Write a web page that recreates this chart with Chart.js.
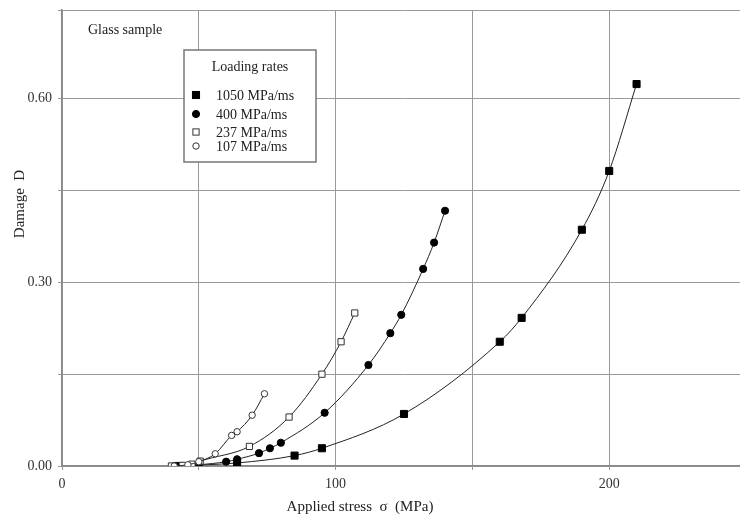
<!DOCTYPE html>
<html><head><meta charset="utf-8">
<script src="https://cdn.jsdelivr.net/npm/chart.js@4.4.1/dist/chart.umd.min.js"></script>
<style>html,body{margin:0;padding:0;background:#fff;overflow:hidden}#wrap{width:740px;height:520px;overflow:hidden}canvas{display:block}</style>
</head><body><div id="wrap"><canvas id="c" width="752" height="520"></canvas></div>
<script>
const seriesLabels = ['1050 MPa/ms', '400 MPa/ms', '237 MPa/ms', '107 MPa/ms'];
const stress1050 = [42, 64, 85, 95, 125, 160, 168, 190, 200, 210];
const damage1050 = [0, 0.005, 0.017, 0.029, 0.085, 0.203, 0.242, 0.386, 0.482, 0.624];
const stress400 = [44, 50, 60, 64, 72, 76, 80, 96, 112, 120, 124, 132, 136, 140];
const damage400 = [0, 0.002, 0.007, 0.011, 0.021, 0.029, 0.038, 0.087, 0.165, 0.217, 0.247, 0.322, 0.365, 0.417];
const stress237 = [40, 44, 47.5, 50.5, 68.5, 83, 95, 102, 107];
const damage237 = [0, 0.001, 0.003, 0.008, 0.032, 0.080, 0.150, 0.203, 0.250];
const stress107 = [41, 46, 50, 56, 62, 64, 69.5, 74];
const damage107 = [0, 0.002, 0.007, 0.020, 0.050, 0.056, 0.083, 0.118];
const xTickLabels = ['0', '100', '200'];
const yTickLabels = ['0.00', '0.30', '0.60'];
const xGridValues = [0, 50, 100, 150, 200, 250];
const yGridValues = [0, 0.15, 0.30, 0.45, 0.60];

const SERIF = '"Liberation Serif", "DejaVu Serif", serif';
function pts(xs, ys) { return xs.map((x, i) => ({x: x, y: ys[i]})); }

const styles = [
  {pointStyle: 'rect', radius: 5, bg: '#000', border: '#000'},
  {pointStyle: 'circle', radius: 3.6, bg: '#000', border: '#000'},
  {pointStyle: 'rect', radius: 4.4, bg: '#fff', border: '#333'},
  {pointStyle: 'circle', radius: 3.2, bg: '#fff', border: '#333'}
];
const allData = [pts(stress1050, damage1050), pts(stress400, damage400), pts(stress237, damage237), pts(stress107, damage107)];

const datasets = allData.map((d, i) => ({
  label: seriesLabels[i],
  data: d,
  showLine: true,
  borderColor: '#222',
  borderWidth: 1,
  cubicInterpolationMode: 'monotone',
  pointStyle: styles[i].pointStyle,
  pointRadius: styles[i].radius,
  pointBackgroundColor: styles[i].bg,
  pointBorderColor: styles[i].border,
  pointBorderWidth: 1,
  order: 4 - i
}));

const annot = {
  id: 'annot',
  afterDraw(chart) {
    const ctx = chart.ctx;
    ctx.save();
    ctx.fillStyle = '#222';
    ctx.textBaseline = 'middle';
    ctx.font = '14px ' + SERIF;
    ctx.textAlign = 'left';
    ctx.fillText('Glass sample', 88, 30);
    ctx.font = '15px ' + SERIF;
    ctx.textAlign = 'center';
    ctx.fillText('Applied stress  \u03C3  (MPa)', 360, 507);
    ctx.save();
    ctx.translate(20, 204);
    ctx.rotate(-Math.PI / 2);
    ctx.fillText('Damage  D', 0, 0);
    ctx.restore();
    ctx.fillStyle = '#fff';
    ctx.fillRect(184, 50, 132, 112);
    ctx.strokeStyle = '#777';
    ctx.lineWidth = 1.5;
    ctx.strokeRect(184, 50, 132, 112);
    ctx.fillStyle = '#222';
    ctx.font = '14px ' + SERIF;
    ctx.textAlign = 'center';
    ctx.fillText('Loading rates', 250, 67);
    const ys = [95, 114, 132, 146];
    ctx.textAlign = 'left';
    seriesLabels.forEach((lab, i) => {
      const st = styles[i];
      const y = ys[i], x = 196;
      ctx.lineWidth = 1;
      ctx.fillStyle = st.bg;
      ctx.strokeStyle = st.border;
      if (st.pointStyle === 'rect') {
        const s = st.radius * Math.SQRT1_2;
        ctx.fillRect(x - s, y - s, 2 * s, 2 * s);
        ctx.strokeRect(x - s, y - s, 2 * s, 2 * s);
      } else {
        ctx.beginPath();
        ctx.arc(x, y, st.radius, 0, Math.PI * 2);
        ctx.fill();
        ctx.stroke();
      }
      ctx.fillStyle = '#222';
      ctx.fillText(lab, 216, y + 1);
    });
    ctx.restore();
  }
};

new Chart(document.getElementById('c'), {
  type: 'scatter',
  data: {datasets: datasets},
  options: {
    responsive: false,
    animation: false,
    devicePixelRatio: 1,
    layout: {padding: {top: 10, right: 0, left: 0, bottom: 0}},
    plugins: {legend: {display: false}, tooltip: {enabled: false}},
    scales: {
      x: {
        type: 'linear', min: 0, max: 250,
        afterBuildTicks: (s) => { s.ticks = xGridValues.map(v => ({value: v})); },
        afterFit: (s) => { s.height = 54; s.paddingLeft = 0; s.paddingRight = 0; },
        grid: {color: '#999', lineWidth: 1, tickLength: 4},
        border: {color: '#888', width: 1.5},
        ticks: {
          font: {family: SERIF, size: 14}, color: '#333', padding: 6, maxRotation: 0,
          callback: (v) => xTickLabels.includes(String(v)) ? String(v) : ''
        }
      },
      y: {
        type: 'linear', min: 0, max: 0.745,
        afterBuildTicks: (s) => { s.ticks = yGridValues.concat([0.745]).map(v => ({value: v})); },
        afterFit: (s) => { s.width = 62; s.paddingTop = 0; s.paddingBottom = 0; },
        grid: {color: '#999', lineWidth: 1, tickLength: 4},
        border: {color: '#888', width: 1.5},
        ticks: {
          font: {family: SERIF, size: 14}, color: '#333', padding: 6,
          callback: (v) => { const t = Number(v).toFixed(2); return yTickLabels.includes(t) ? t : ''; }
        }
      }
    }
  },
  plugins: [annot]
});
</script>
</body></html>
